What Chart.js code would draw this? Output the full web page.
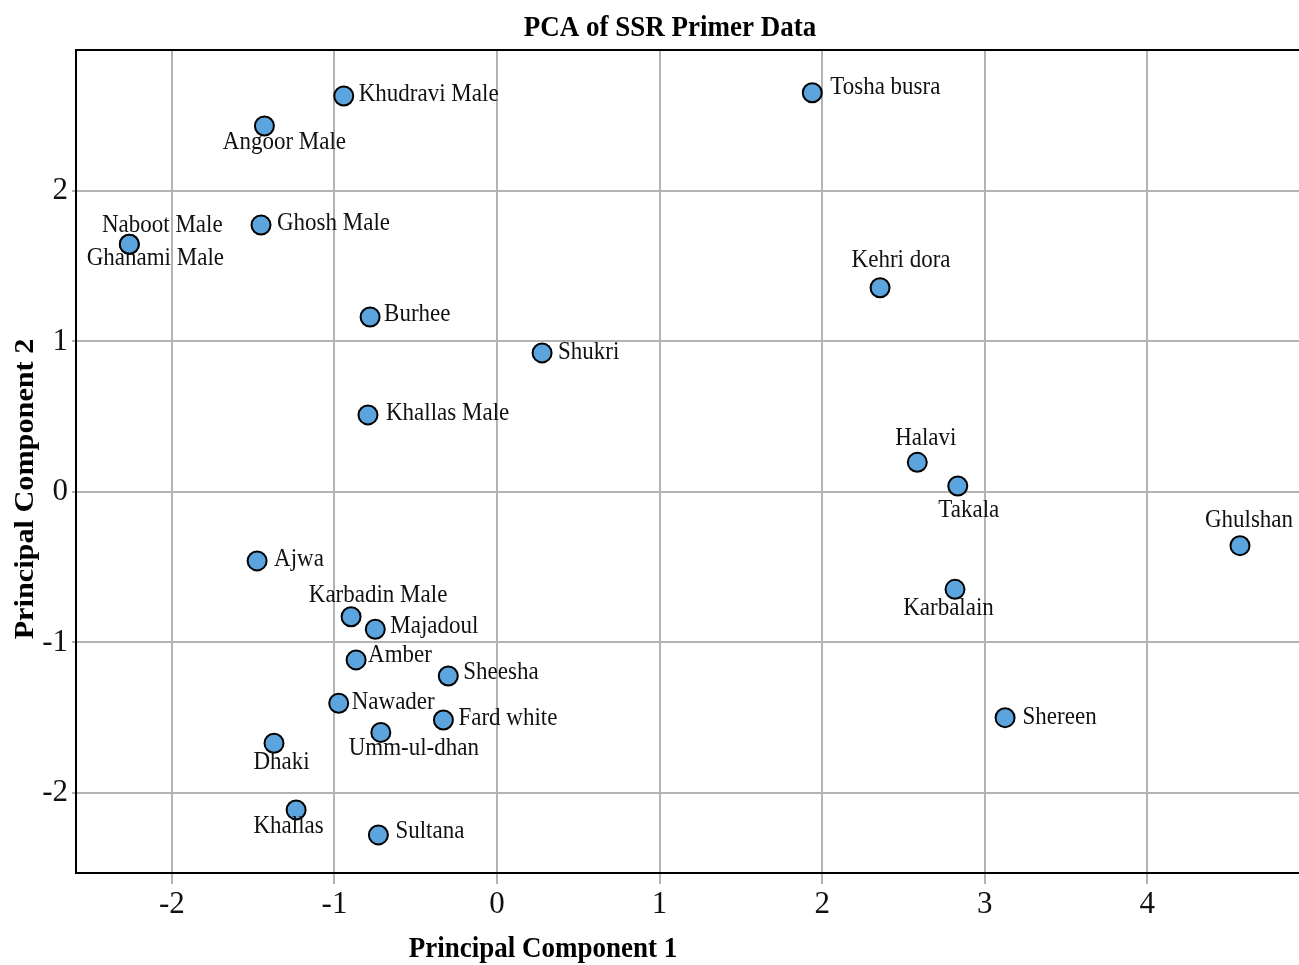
<!DOCTYPE html>
<html>
<head>
<meta charset="utf-8">
<script src="https://cdn.jsdelivr.net/npm/chart.js@4.4.0/dist/chart.umd.min.js"></script>
<style>
  html, body { margin: 0; padding: 0; background: #ffffff; overflow: hidden; }
  canvas { display: block; }
</style>
</head>
<body>
<canvas id="c" width="1299" height="965" style="width:1299px;height:965px;"></canvas>
<script>
// ---- Data ----
const cultivars = [
  "Khudravi Male", "Angoor Male", "Tosha busra", "Naboot Male", "Ghanami Male",
  "Ghosh Male", "Burhee", "Kehri dora", "Shukri", "Khallas Male",
  "Halavi", "Takala", "Ghulshan", "Ajwa", "Karbadin Male",
  "Majadoul", "Karbalain", "Amber", "Sheesha", "Nawader",
  "Fard white", "Umm-ul-dhan", "Shereen", "Dhaki", "Khallas", "Sultana"
];
const pc1 = [
  -0.943, -1.431, 1.939, -2.262, -2.262,
  -1.452, -0.781, 2.356, 0.277, -0.794,
  2.585, 2.834, 4.570, -1.476, -0.898,
  -0.749, 2.817, -0.867, -0.300, -0.974,
  -0.330, -0.715, 3.125, -1.372, -1.236, -0.730
];
const pc2 = [
  2.631, 2.432, 2.653, 1.646, 1.646,
  1.774, 1.163, 1.357, 0.924, 0.512,
  0.197, 0.040, -0.357, -0.458, -0.829,
  -0.912, -0.647, -1.116, -1.223, -1.404,
  -1.515, -1.598, -1.500, -1.670, -2.113, -2.279
];
const xTickValues = [-2, -1, 0, 1, 2, 3, 4];
const yTickValues = [-2, -1, 0, 1, 2];
const chartTitle = "PCA of SSR Primer Data";
const xAxisTitle = "Principal Component 1";
const yAxisTitle = "Principal Component 2";

// ---- Label placement (style: offset from point in px, alignment) ----
const labelPlacement = [
  [15, -1, 'left'], [20, 17, 'center'], [18, -5, 'left'], [33, -19, 'center'], [26, 14, 'center'],
  [16, -1, 'left'], [14, -2, 'left'], [21, -27, 'center'], [16, 0, 'left'], [18, -1, 'left'],
  [8.5, -24, 'center'], [11, 25, 'center'], [9, -25, 'center'], [17, -1, 'left'], [27, -21, 'center'],
  [15, -3, 'left'], [-6.5, 19, 'center'], [12, -4, 'left'], [15, -3, 'left'], [13, -1, 'left'],
  [15, -1, 'left'], [33, 16, 'center'], [17.5, 0, 'left'], [7.5, 19, 'center'], [-7.5, 17, 'center'], [17, -3, 'left']
];

const SERIF = "'Liberation Serif', 'Times New Roman', serif";
const STRETCH = 1.12;

function stretchedText(ctx, text, x, y, sx, sy, rot) {
  ctx.save();
  ctx.translate(x, y);
  if (rot) ctx.rotate(rot);
  ctx.scale(sx, sy);
  ctx.fillText(text, 0, 0);
  ctx.restore();
}

const pointLabelPlugin = {
  id: 'pointLabels',
  afterDatasetsDraw(chart) {
    const ctx = chart.ctx;
    const meta = chart.getDatasetMeta(0);
    ctx.save();
    ctx.fillStyle = '#111111';
    ctx.font = "23px " + SERIF;
    ctx.textBaseline = 'middle';
    meta.data.forEach((el, i) => {
      const p = labelPlacement[i];
      ctx.textAlign = p[2];
      stretchedText(ctx, cultivars[i], el.x + p[0], el.y + p[1], 1, 1.06, 0);
    });
    ctx.restore();
  }
};

const framePlugin = {
  id: 'frameAndTitles',
  afterDraw(chart) {
    const ctx = chart.ctx;
    const a = chart.chartArea;
    ctx.save();
    // top frame line
    ctx.strokeStyle = '#000000';
    ctx.lineWidth = 2;
    ctx.beginPath();
    ctx.moveTo(a.left - 1, a.top);
    ctx.lineTo(a.right, a.top);
    ctx.stroke();
    // titles
    ctx.fillStyle = '#000000';
    ctx.font = "bold 27px " + SERIF;
    ctx.textAlign = 'center';
    ctx.textBaseline = 'middle';
    stretchedText(ctx, chartTitle, 670, 28, 1, STRETCH, 0);
    stretchedText(ctx, xAxisTitle, 543, 949, 1, STRETCH, 0);
    stretchedText(ctx, yAxisTitle, 26, 489, STRETCH, 1, -Math.PI / 2);
    ctx.restore();
  }
};

const ctx = document.getElementById('c').getContext('2d');
new Chart(ctx, {
  type: 'scatter',
  data: {
    datasets: [{
      label: 'Cultivars',
      data: pc1.map((x, i) => ({ x: x, y: pc2[i] })),
      backgroundColor: '#5ba4dd',
      borderColor: '#000000',
      borderWidth: 2,
      pointRadius: 9.5,
      pointHoverRadius: 9.5
    }]
  },
  options: {
    responsive: false,
    maintainAspectRatio: false,
    animation: false,
    devicePixelRatio: 1,
    layout: { autoPadding: false, padding: { top: 50, right: 0, bottom: 0, left: 0 } },
    plugins: {
      legend: { display: false },
      tooltip: { enabled: false },
      title: { display: false }
    },
    scales: {
      x: {
        type: 'linear',
        min: -2.59,
        max: 4.933,
        afterBuildTicks(scale) { scale.ticks = xTickValues.map(v => ({ value: v })); },
        afterFit(scale) { scale.height = 92; scale.paddingLeft = 0; scale.paddingRight = 0; },
        grid: { color: '#b3b3b3', lineWidth: 2, tickLength: 11, tickColor: '#b3b3b3' },
        border: { color: '#000000', width: 2 },
        ticks: {
          font: { family: SERIF, size: 31 },
          color: '#111111',
          padding: 2,
          maxRotation: 0,
          callback: v => String(v)
        }
      },
      y: {
        type: 'linear',
        min: -2.532,
        max: 2.937,
        afterBuildTicks(scale) { scale.ticks = yTickValues.map(v => ({ value: v })); },
        afterFit(scale) { scale.width = 76; scale.paddingTop = 0; scale.paddingBottom = 0; },
        grid: { color: '#b3b3b3', lineWidth: 2, tickLength: 4, tickColor: '#b3b3b3' },
        border: { color: '#000000', width: 2 },
        ticks: {
          font: { family: SERIF, size: 31 },
          color: '#111111',
          padding: 4,
          callback: v => String(v)
        }
      }
    }
  },
  plugins: [pointLabelPlugin, framePlugin]
});
</script>
</body>
</html>
